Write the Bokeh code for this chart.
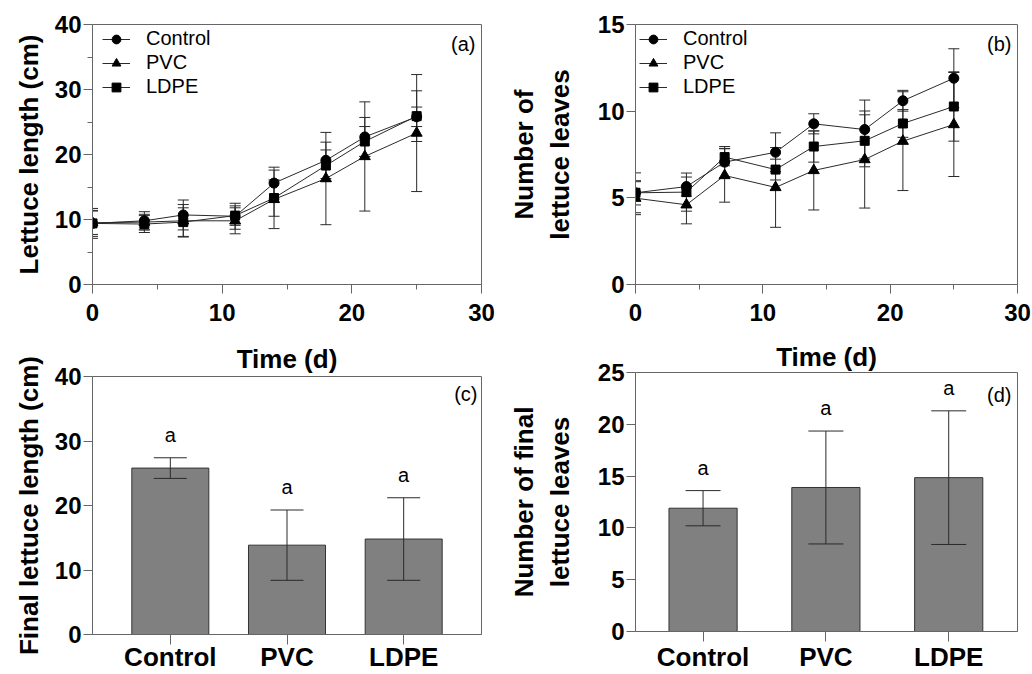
from bokeh.plotting import figure
from bokeh.models import (Range1d, SingleIntervalTicker, FixedTicker, Whisker, TeeHead,
                          ColumnDataSource, Legend, LegendItem)
from bokeh.layouts import row, column
from bokeh.embed import file_html
from bokeh.resources import INLINE
from bokeh.core.properties import value

# ---------------- data ----------------
days = [0, 4, 7, 11, 14, 18, 21, 25]

len_control = [9.4, 9.8, 10.7, 10.5, 15.6, 19.1, 22.7, 25.8]
len_control_err = [2.3, 1.4, 2.3, 2.0, 2.45, 2.8, 3.0, 1.5]
len_pvc = [9.5, 9.6, 9.8, 9.8, 13.1, 16.3, 19.7, 23.3]
len_pvc_err = [1.8, 1.2, 2.5, 2.0, 4.5, 7.1, 8.4, 9.0]
len_ldpe = [9.4, 9.3, 9.6, 10.6, 13.3, 18.3, 22.0, 25.9]
len_ldpe_err = [2.0, 1.3, 2.2, 1.5, 2.8, 2.4, 2.3, 3.9]

leaves_control = [5.29, 5.65, 7.06, 7.63, 9.27, 8.94, 10.6, 11.9]
leaves_control_err = [0.7, 0.55, 0.9, 1.12, 0.58, 1.7, 0.6, 1.7]
leaves_pvc = [4.98, 4.6, 6.29, 5.6, 6.58, 7.21, 8.27, 9.23]
leaves_pvc_err = [0.95, 1.1, 1.54, 2.3, 2.28, 2.8, 2.85, 3.0]
leaves_ldpe = [5.29, 5.33, 7.35, 6.63, 7.96, 8.29, 9.29, 10.27]
leaves_ldpe_err = [1.15, 1.1, 0.5, 0.6, 0.9, 1.5, 0.8, 2.0]

treatments = ["Control", "PVC", "LDPE"]
markers = ["circle", "triangle", "square"]
final_length = [25.8, 13.85, 14.8]
final_length_err = [1.6, 5.45, 6.4]
final_leaves = [11.9, 13.9, 14.85]
final_leaves_err = [1.7, 5.45, 6.45]
sig_letters = ["a", "a", "a"]

# ---------------- style ----------------
FONT = "Liberation Sans"
AX = "#666666"
INK = "#2a2a2a"
BAR = "#808080"


def make_fig(w, h, bl, br, bt, bb, x_range, ymax, yint, yminor):
    p = figure(width=w, height=h, output_backend="svg", toolbar_location=None,
               x_range=x_range, y_range=Range1d(0, ymax),
               min_border_left=bl, min_border_right=br,
               min_border_top=bt, min_border_bottom=bb)
    p.grid.visible = False
    p.outline_line_color = AX
    p.outline_line_width = 1
    p.yaxis.ticker = SingleIntervalTicker(interval=yint, num_minor_ticks=yminor)
    for ax in (p.xaxis[0], p.yaxis[0]):
        ax.axis_line_color = AX
        ax.major_tick_line_color = AX
        ax.minor_tick_line_color = AX
        ax.major_tick_out = 9
        ax.major_tick_in = 0
        ax.minor_tick_out = 5
        ax.minor_tick_in = 0
        ax.major_label_text_font = FONT
        ax.major_label_text_font_style = "bold"
        ax.major_label_text_font_size = "24px"
        ax.major_label_text_color = "black"
        ax.axis_label_text_font = FONT
        ax.axis_label_text_font_style = "bold"
        ax.axis_label_text_font_size = "26px"
        ax.axis_label_text_color = "black"
    p.xaxis.major_label_standoff = 10
    p.yaxis.major_label_standoff = 2
    return p


def time_title(p, standoff):
    p.title.text = "Time (d)"
    p.title.align = "center"
    p.title.text_font = FONT
    p.title.text_font_style = "bold"
    p.title.text_font_size = "26px"
    p.title.text_color = "black"
    p.title.standoff = standoff


def panel_tag(p, x, y, tag, dx, dy):
    p.text(x=[x], y=[y], text=[tag], x_offset=dx, y_offset=dy,
           text_align="right", text_baseline="middle",
           text_font=value(FONT), text_font_size="20px", text_color="black")


def line_panel(p, series, errs, legend_loc):
    items = []
    for name, vals, err, mk in zip(treatments, series, errs, markers):
        src = ColumnDataSource(dict(x=days, y=vals,
                                    upper=[v + e for v, e in zip(vals, err)],
                                    lower=[v - e for v, e in zip(vals, err)]))
        w = Whisker(source=src, base="x", upper="upper", lower="lower",
                    line_color=INK, line_width=1,
                    upper_head=TeeHead(size=11, line_color=INK, line_width=1),
                    lower_head=TeeHead(size=11, line_color=INK, line_width=1))
        p.add_layout(w)
        ln = p.line("x", "y", source=src, line_color=INK, line_width=1)
        size = 11 if mk == "triangle" else (9 if mk == "square" else 10)
        sc = p.scatter("x", "y", source=src, marker=mk, size=size,
                       fill_color="black", line_color="black")
        items.append(LegendItem(label=name, renderers=[ln, sc]))
    leg = Legend(items=items, location=legend_loc,
                 label_text_font=FONT, label_text_font_size="20px",
                 label_text_color="black",
                 glyph_width=28, glyph_height=22, label_height=22,
                 label_standoff=16, spacing=1, padding=0, margin=0,
                 border_line_color=None, background_fill_alpha=0)
    p.add_layout(leg)


def bar_panel(p, vals, err, bar_w, cap, standoff):
    xs = list(range(len(treatments)))
    src = ColumnDataSource(dict(x=xs, y=vals,
                                upper=[v + e for v, e in zip(vals, err)],
                                lower=[v - e for v, e in zip(vals, err)],
                                lab=sig_letters))
    p.vbar(x="x", top="y", width=bar_w, source=src, fill_color=BAR,
           line_color="#333333", line_width=1)
    p.add_layout(Whisker(source=src, base="x", upper="upper", lower="lower",
                         line_color=INK, line_width=1, level="overlay",
                         upper_head=TeeHead(size=cap, line_color=INK, line_width=1),
                         lower_head=TeeHead(size=cap, line_color=INK, line_width=1)))
    p.text(x="x", y="upper", text="lab", source=src, y_offset=-12,
           text_align="center", text_baseline="bottom",
           text_font=value(FONT), text_font_size="20px", text_color="black")
    p.xaxis.ticker = FixedTicker(ticks=xs)
    p.xaxis.major_label_overrides = {i: t for i, t in zip(xs, treatments)}
    p.xaxis.major_label_text_font_size = "26px"
    p.xaxis.major_tick_out = 10
    p.xaxis.major_label_standoff = standoff


# ---------------- panel (a) ----------------
pa = make_fig(505, 336, 92, 24, 24, 52, Range1d(0, 30), 40, 10, 2)
pa.xaxis.ticker = SingleIntervalTicker(interval=10, num_minor_ticks=2)
pa.yaxis.axis_label = "Lettuce length (cm)"
pa.yaxis.axis_label_standoff = 8
line_panel(pa, [len_control, len_pvc, len_ldpe],
           [len_control_err, len_pvc_err, len_ldpe_err], (10, 186))
panel_tag(pa, 30, 40, "(a)", -6, 19)

# ---------------- panel (b) ----------------
pb = make_fig(527, 336, 123, 15, 24, 52, Range1d(0, 30), 15, 5, 0)
pb.xaxis.ticker = SingleIntervalTicker(interval=10, num_minor_ticks=2)
pb.yaxis.axis_label = "Number of\nlettuce leaves"
pb.yaxis.axis_label_standoff = 20
line_panel(pb, [leaves_control, leaves_pvc, leaves_ldpe],
           [leaves_control_err, leaves_pvc_err, leaves_ldpe_err], (4, 186))
panel_tag(pb, 30, 15, "(b)", -6, 19)

# ---------------- panel (c) ----------------
pc = make_fig(505, 338, 92, 24, 40, 39, Range1d(-0.667, 2.667), 40, 10, 0)
time_title(pc, 5)
pc.yaxis.axis_label = "Final lettuce length (cm)"
pc.yaxis.axis_label_standoff = 8
bar_panel(pc, final_length, final_length_err, 0.66, 33, -3)
panel_tag(pc, 2.667, 40, "(c)", -4, 17)

# ---------------- panel (d) ----------------
pd_ = make_fig(527, 338, 123, 15, 36, 42, Range1d(-0.55, 2.56), 25, 5, 0)
time_title(pd_, 1)
pd_.yaxis.axis_label = "Number of final\nlettuce leaves"
pd_.yaxis.axis_label_standoff = 20
bar_panel(pd_, final_leaves, final_leaves_err, 0.555, 35, 0)
panel_tag(pd_, 2.56, 25, "(d)", -6, 22)

layout = row(column(pa, pc), column(pb, pd_))
open("out.html", "w").write(file_html(layout, INLINE))
